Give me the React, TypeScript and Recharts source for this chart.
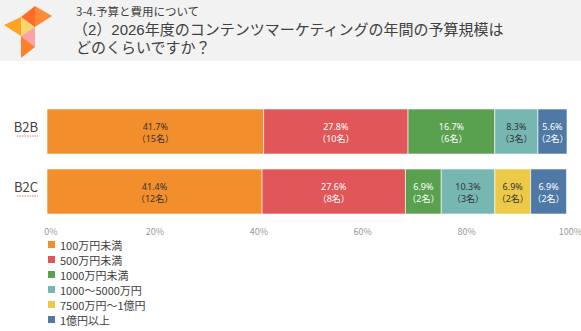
import React from "react";
import { BarChart, Bar, XAxis, YAxis, LabelList } from "recharts";

// answers per segment
const categories = ["B2B", "B2C"];
const seriesNames = [
  "100万円未満",
  "500万円未満",
  "1000万円未満",
  "1000～5000万円",
  "7500万円～1億円",
  "1億円以上",
];
const b2bPct = [41.7, 27.8, 16.7, 8.3, 0, 5.6];
const b2cPct = [41.4, 27.6, 6.9, 10.3, 6.9, 6.9];
const b2bCount = [15, 10, 6, 3, 0, 2];
const b2cCount = [12, 8, 2, 3, 2, 2];
const xTicks = [0, 20, 40, 60, 80, 100];

const colors = ["#F28E2B", "#E15759", "#59A14F", "#76B7B2", "#EDC948", "#4E79A7"];
const labelColors = ["#333", "#fff", "#fff", "#333", "#333", "#fff"];

const pctRows = [b2bPct, b2cPct];
const countRows = [b2bCount, b2cCount];

const data = categories.map((name, r) => {
  const row: Record<string, number | string> = { name };
  seriesNames.forEach((_, i) => {
    row[`s${i}`] = pctRows[r][i];
    row[`l${i}`] = pctRows[r][i] ? `${pctRows[r][i].toFixed(1)}%|${countRows[r][i]}` : "";
  });
  return row;
});

const FONT = "'Noto Sans CJK JP', 'Noto Sans', sans-serif";
const TITLE_FONT = "'Liberation Sans', 'Noto Sans CJK JP', sans-serif";

function makeLabel(i: number) {
  return (props: any) => {
    const { x, y, width, height, value } = props;
    if (!value) return null;
    const [pct, cnt] = String(value).split("|");
    const cx = Number(x) + Number(width) / 2;
    const cy = Number(y) + Number(height) / 2;
    const common = {
      textAnchor: "middle" as const,
      dominantBaseline: "central" as const,
      fontSize: 9,
      fontFamily: "'Noto Sans', 'Noto Sans CJK JP', sans-serif",
      fill: labelColors[i],
    };
    return (
      <g>
        <text x={cx} y={cy - 5.5} {...common}>{pct}</text>
        <text x={cx} y={cy + 7} {...common}>{`（${cnt}名）`}</text>
      </g>
    );
  };
}

function CategoryTick(props: any) {
  const { x, y, payload } = props;
  return (
    <g>
      <text x={x} y={y - 4} dy="0.35em" textAnchor="end" fontSize={13} fill="#404040" fontFamily={FONT}>
        {payload.value}
      </text>
      <line x1={x - 21} x2={x} y1={y + 5} y2={y + 5} stroke="#e57373" strokeWidth={1} strokeDasharray="1.5 1" />
    </g>
  );
}

function Logo() {
  return (
    <svg width={60} height={62} style={{ position: "absolute", left: 0, top: 0 }}>
      <polygon points="4,25 21,17 21,36" fill="#FFA225" />
      <polygon points="21,17 35,27 21,36" fill="#F5D76E" />
      <polygon points="21,17 35,6 35,27" fill="#FF6A2B" />
      <polygon points="35,6 52,16 35,27" fill="#FF8A35" />
      <polygon points="21,36 35,27 35,47" fill="#F9A3A8" />
      <polygon points="21,36 35,47 21,58" fill="#FF7F2A" />
    </svg>
  );
}

export default function App() {
  return (
    <div
      style={{
        position: "absolute",
        left: 0,
        top: 0,
        width: 581,
        height: 331,
        background: "#fff",
        fontFamily: FONT,
        overflow: "hidden",
      }}
    >
      <div style={{ position: "absolute", left: 0, top: 0, width: 581, height: 61, background: "#f2f2f2" }} />
      <Logo />
      <div style={{ position: "absolute", left: 76, top: 4, fontSize: 11.5, color: "#404040", lineHeight: "15px" }}>
        3-4.予算と費用について
      </div>
      <div
        style={{
          position: "absolute",
          left: 73,
          top: 21,
          fontSize: 15,
          fontFamily: TITLE_FONT,
          color: "#404040",
          lineHeight: "18px",
          whiteSpace: "nowrap",
        }}
      >
        （2）2026年度のコンテンツマーケティングの年間の予算規模は
        <br />
        <span style={{ marginLeft: 3 }}>どのくらいですか？</span>
      </div>

      <div style={{ position: "absolute", left: 0, top: 0 }}>
        <BarChart
          width={581}
          height={241}
          data={data}
          layout="vertical"
          barSize={45}
          margin={{ top: 101, right: 14, left: 0, bottom: 0 }}
        >
          <XAxis
            type="number"
            domain={[0, 100]}
            ticks={xTicks}
            tickFormatter={(v) => `${v}%`}
            axisLine={false}
            tickLine={false}
            height={20}
            tick={{ fontSize: 9, fill: "#999", fontFamily: FONT, dx: 4 }}
          />
          <YAxis
            type="category"
            dataKey="name"
            width={47}
            axisLine={false}
            tickLine={false}
            tickSize={0}
            tickMargin={9}
            tick={<CategoryTick />}
          />
          {seriesNames.map((n, i) => (
            <Bar
              key={n}
              dataKey={`s${i}`}
              name={n}
              stackId="a"
              fill={colors[i]}
              stroke="#fff"
              strokeOpacity={0.6}
              strokeWidth={1}
              isAnimationActive={false}
            >
              <LabelList dataKey={`l${i}`} content={makeLabel(i)} />
            </Bar>
          ))}
        </BarChart>
      </div>

      <div style={{ position: "absolute", left: 48, top: 237 }}>
        {seriesNames.map((n, i) => (
          <div key={n} style={{ display: "flex", alignItems: "center", height: 15, fontSize: 11, color: "#404040" }}>
            <span style={{ width: 7, height: 7, background: colors[i], marginRight: 5, display: "inline-block" }} />
            {n}
          </div>
        ))}
      </div>
    </div>
  );
}
